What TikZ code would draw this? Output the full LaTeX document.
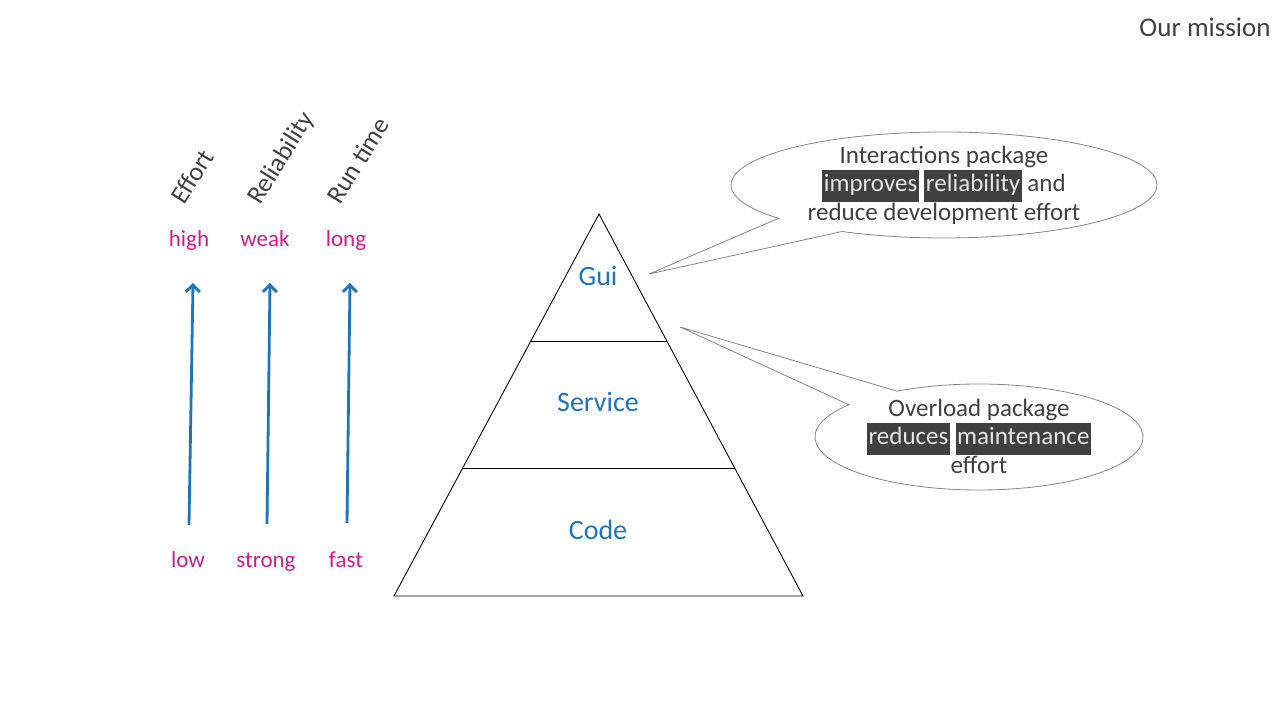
\documentclass[tikz,border=0pt]{standalone}
\usepackage{fontspec}
\setmainfont{Carlito}
\usetikzlibrary{arrows.meta,calc}
\definecolor{inkgray}{HTML}{404040}
\definecolor{layerblue}{HTML}{1F73B7}
\definecolor{scalepink}{HTML}{CC1C8C}
\definecolor{bubbleline}{HTML}{858585}
\definecolor{marktext}{HTML}{E6E6E6}
\newcommand{\marked}[1]{{\setlength{\fboxsep}{1.5pt}\colorbox{inkgray}{\strut\textcolor{marktext}{#1}}}}
\tikzset{
  x=1pt, y=1pt,
  layer/.style={text=layerblue, font=\fontsize{28}{32}\selectfont, anchor=base},
  scale label/.style={text=scalepink, font=\fontsize{23}{26}\selectfont, anchor=base},
  axis title/.style={text=inkgray, font=\fontsize{26}{30}\selectfont, rotate=58, anchor=base west, inner sep=0pt},
  trend/.style={draw=layerblue, line width=2.8pt, -{Straight Barb[length=7pt,width=14pt]}},
  bubble/.style={draw=bubbleline, line width=0.8pt, fill=white},
  bubble text/.style={text=inkgray, align=center, font=\fontsize{25}{28.5}\selectfont},
  pyramid/.style={draw=black, line width=0.9pt}
}
\begin{document}
\begin{tikzpicture}
\useasboundingbox (0,0) rectangle (1280,720);

% heading
\node[text=inkgray, font=\fontsize{27}{30}\selectfont] (title) at (1205,693) {Our mission};

% scale titles
\node[axis title] (effort) at (184,514) {Effort};
\node[axis title] (reliab) at (260,514) {Reliability};
\node[axis title] (runtime) at (340,514) {Run time};

% scale ends
\node[scale label] (high) at (189,473) {high};
\node[scale label] (weak) at (265,473) {weak};
\node[scale label] (long) at (346,473) {long};
\node[scale label] (low) at (188,152) {low};
\node[scale label] (strong) at (266,152) {strong};
\node[scale label] (fast) at (346,152) {fast};

% trend arrows
\coordinate (e0) at (189,195); \coordinate (e1) at (193,437);
\coordinate (r0) at (267,196); \coordinate (r1) at (270,437);
\coordinate (t0) at (347,197); \coordinate (t1) at (350,437);
\draw[trend] (e0) -- (e1);
\draw[trend] (r0) -- (r1);
\draw[trend] (t0) -- (t1);

% pyramid of test layers
\coordinate (apex) at (599,506);
\coordinate (bl) at (394,124);
\coordinate (br) at (803,124);
\draw[pyramid] (apex) -- (bl) -- (br) -- cycle;
\coordinate (l1) at ($(apex)!0.3325!(bl)$);
\coordinate (r1p) at ($(apex)!0.3325!(br)$);
\coordinate (l2) at ($(apex)!0.665!(bl)$);
\coordinate (r2p) at ($(apex)!0.665!(br)$);
\draw[pyramid] (l1) -- (r1p);
\draw[pyramid] (l2) -- (r2p);
\node[layer] (gui) at (598,434) {Gui};
\node[layer] (service) at (598,308) {Service};
\node[layer] (code) at (598,180) {Code};

% speech bubbles
\coordinate (c1) at (944,535);
\coordinate (tip1) at (649,446);
\draw[bubble] (c1) ++(241.4:213 and 53) arc[start angle=241.4, end angle=579, x radius=213, y radius=53] -- (tip1) -- cycle;
\node[bubble text] (note1) at (944,535) {Interactions package\\ \marked{improves} \marked{reliability} and\\ reduce development effort};

\coordinate (c2) at (979,283);
\coordinate (tip2) at (680,393);
\draw[bubble] (c2) ++(142.5:164 and 53) arc[start angle=142.5, end angle=480, x radius=164, y radius=53] -- (tip2) -- cycle;
\node[bubble text] (note2) at (979,284) {Overload package\\ \marked{reduces} \marked{maintenance}\\ effort};
\end{tikzpicture}
\end{document}
